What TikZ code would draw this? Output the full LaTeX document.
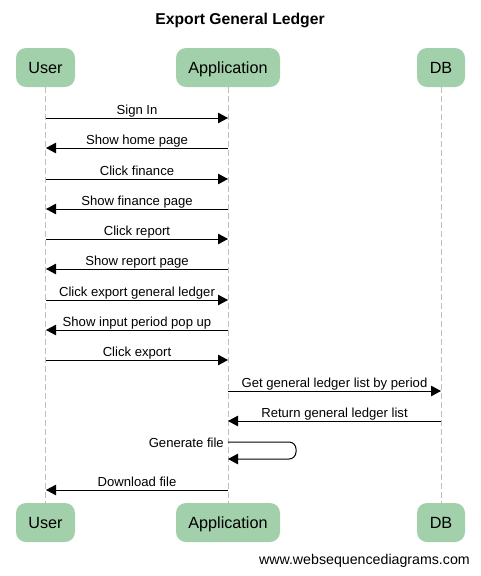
\documentclass[tikz,border=0pt]{standalone}
\usepackage{fontspec}
\setmainfont{Liberation Sans}
\usetikzlibrary{arrows.meta}
\definecolor{boxgreen}{RGB}{161,208,170}
\definecolor{lifegray}{RGB}{190,190,190}
\tikzset{
  actor/.style={fill=boxgreen, rounded corners=10pt, minimum height=39pt, inner sep=0pt,
    font=\fontsize{16.2}{19}\selectfont, text height=11.5pt, text depth=0pt},
  lifeline/.style={draw=lifegray, line width=0.8pt, dash pattern=on 6pt off 3pt},
  msg/.style={draw=black, line width=1pt, -{Triangle[length=10pt,width=10.5pt]}},
  lbl/.style={font=\fontsize{13.1}{15}\selectfont, inner sep=0pt, anchor=base},
}
\begin{document}
\begin{tikzpicture}[x=1pt,y=-1pt]
\useasboundingbox (0,0) rectangle (480,576);
\fill[white] (0,0) rectangle (480,576);
\node[font=\bfseries\fontsize{15.7}{18}\selectfont, anchor=base] (title) at (240,24) {Export General Ledger};
% actors
\node[actor, minimum width=59pt] (uT) at (45.5,67.5) {User};
\node[actor, minimum width=104pt] (aT) at (228,67.5) {Application};
\node[actor, minimum width=48pt] (dT) at (441,67.5) {DB};
\node[actor, minimum width=59pt] (uB) at (45.5,522.5) {User};
\node[actor, minimum width=104pt] (aB) at (228,522.5) {Application};
\node[actor, minimum width=48pt] (dB) at (441,522.5) {DB};
\draw[lifeline] (uT.south) -- (uB.north);
\draw[lifeline] (aT.south) -- (aB.north);
\draw[lifeline] (dT.south) -- (dB.north);
% messages
\foreach \n/\y/\f/\t/\l in {
  1/118/46/228/Sign In,
  2/148/228/46/Show home page,
  3/179/46/228/Click finance,
  4/209/228/46/Show finance page,
  5/239/46/228/Click report,
  6/269/228/46/Show report page,
  7/300/46/228/Click export general ledger,
  8/330/228/46/Show input period pop up,
  9/360/46/228/Click export,
  10/391/228/441/Get general ledger list by period,
  11/421/441/228/Return general ledger list,
  12/490/228/46/Download file}{
  \coordinate (s\n) at (\f,\y);
  \coordinate (e\n) at (\t,\y);
  \draw[msg] (s\n) -- node[lbl, midway, yshift=4pt] (m\n) {\l} (e\n);
}
% self message
\coordinate (g1) at (228,442);
\coordinate (g2) at (296,442);
\coordinate (g3) at (296,459);
\coordinate (g4) at (228,459);
\draw[msg, rounded corners=7pt] (g1) -- (g2) -- (g3) -- (g4);
\node[lbl, anchor=base east] (gen) at (224,447) {Generate file};
\node[font=\fontsize{14.2}{16}\selectfont, anchor=base east, inner sep=0pt] (foot) at (470,564) {www.websequencediagrams.com};
\end{tikzpicture}
\end{document}
